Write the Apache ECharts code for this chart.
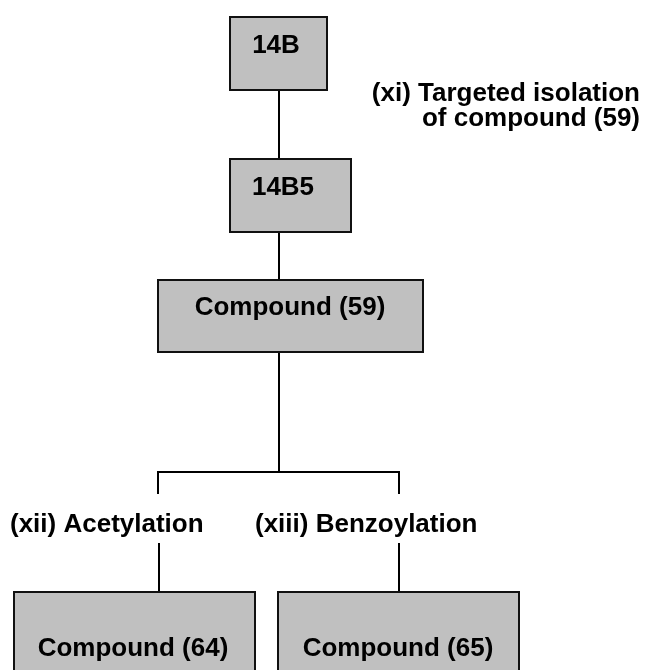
<!DOCTYPE html>
<html>
<head>
<meta charset="utf-8">
<script src="https://cdn.jsdelivr.net/npm/echarts@6/dist/echarts.min.js"></script>
<style>
  html, body { margin: 0; padding: 0; background: #fff; }
  #chart { width: 649px; height: 670px; }
</style>
</head>
<body>
<div id="chart"></div>
<script>
  // boxes of the scheme (diagram units = pixels of the picture)
  const boxNames = ['14B', '14B5', 'Compound (59)', 'Compound (64)', 'Compound (65)'];
  const boxLeft = [230, 230, 158, 14, 278];
  const boxTop = [17, 159, 280, 592, 592];
  const boxRight = [327, 351, 423, 255, 519];
  const boxBottom = [90, 232, 352, 720, 720];
  const boxTextX = [276, 283, 290, 133, 398];
  const boxTextY = [46, 188, 308, 649, 649];

  // connectors, each a polyline
  const links = [
    [[279, 90], [279, 159]],
    [[279, 232], [279, 280]],
    [[279, 352], [279, 472]],
    [[158, 494], [158, 472], [399, 472], [399, 494]],
    [[159, 543], [159, 592]],
    [[399, 543], [399, 592]]
  ];

  // step labels
  const stepTexts = ['(xi) Targeted isolation\nof compound (59)', '(xii) Acetylation', '(xiii) Benzoylation'];
  const stepX = [640, 10, 255];
  const stepY = [106, 525, 525];
  const stepAlign = ['right', 'left', 'left'];

  const font = '"Liberation Sans", Arial, sans-serif';
  const chart = echarts.init(document.getElementById('chart'));

  const boxData = boxNames.map((n, i) => [boxLeft[i], boxTop[i], boxRight[i], boxBottom[i], boxTextX[i], boxTextY[i], n]);
  const stepData = stepTexts.map((t, i) => [stepX[i], stepY[i], t, stepAlign[i]]);

  const option = {
    animation: false,
    grid: { left: 0, right: 0, top: 0, bottom: 0 },
    xAxis: { type: 'value', min: 0, max: 649, show: false },
    yAxis: { type: 'value', min: 0, max: 670, inverse: true, show: false },
    series: [
      {
        type: 'lines',
        coordinateSystem: 'cartesian2d',
        polyline: true,
        silent: true,
        lineStyle: { color: '#000', width: 2, opacity: 1 },
        data: links.map(c => ({ coords: c }))
      },
      {
        type: 'custom',
        silent: true,
        clip: false,
        data: boxData,
        encode: { x: 0, y: 1 },
        renderItem: function (params, api) {
          const p1 = api.coord([api.value(0), api.value(1)]);
          const p2 = api.coord([api.value(2), api.value(3)]);
          const pt = api.coord([api.value(4), api.value(5)]);
          return {
            type: 'group',
            children: [
              {
                type: 'rect',
                shape: { x: p1[0], y: p1[1], width: p2[0] - p1[0], height: p2[1] - p1[1] },
                style: { fill: '#c0c0c0', stroke: '#111', lineWidth: 2 }
              },
              {
                type: 'text',
                x: pt[0], y: pt[1],
                style: {
                  text: boxNames[params.dataIndex],
                  fill: '#000',
                  font: 'bold 26px ' + font,
                  align: 'center',
                  verticalAlign: 'middle'
                }
              }
            ]
          };
        }
      },
      {
        type: 'custom',
        silent: true,
        data: stepData,
        encode: { x: 0, y: 1 },
        renderItem: function (params, api) {
          const p = api.coord([api.value(0), api.value(1)]);
          return {
            type: 'text',
            x: p[0], y: p[1],
            style: {
              text: stepTexts[params.dataIndex],
              fill: '#000',
              font: 'bold 26px ' + font,
              lineHeight: 25,
              align: stepAlign[params.dataIndex],
              verticalAlign: 'middle'
            }
          };
        }
      }
    ]
  };

  chart.setOption(option);
</script>
</body>
</html>
